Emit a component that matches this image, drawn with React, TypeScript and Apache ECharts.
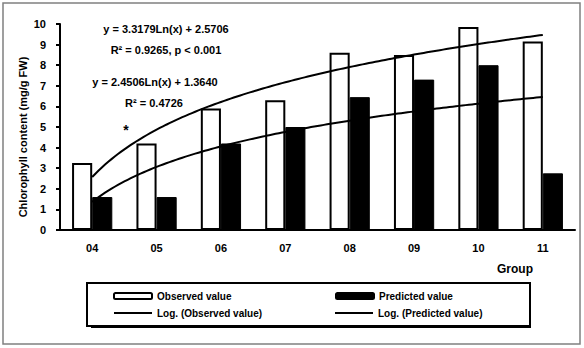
import React, { useEffect, useRef } from 'react';
import * as echarts from 'echarts';

const categories = ['04', '05', '06', '07', '08', '09', '10', '11'];
const observedValues = [3.25, 4.2, 5.9, 6.3, 8.6, 8.5, 9.85, 9.15];
const predictedValues = [1.6, 1.6, 4.2, 5.0, 6.45, 7.3, 8.0, 2.75];
const seriesNames = ['Observed value', 'Predicted value', 'Log. (Observed value)', 'Log. (Predicted value)'];
const yAxisTitle = 'Chlorophyll content (mg/g FW)';
const xAxisTitle = 'Group';

function logFit(values: number[]) {
  const xs = values.map((_, i) => Math.log(i + 1));
  const n = values.length;
  const mx = xs.reduce((s, v) => s + v, 0) / n;
  const my = values.reduce((s, v) => s + v, 0) / n;
  let sxy = 0, sxx = 0, syy = 0;
  for (let i = 0; i < n; i++) {
    sxy += (xs[i] - mx) * (values[i] - my);
    sxx += (xs[i] - mx) ** 2;
    syy += (values[i] - my) ** 2;
  }
  const a = sxy / sxx;
  const b = my - a * mx;
  const r2 = (sxy * sxy) / (sxx * syy);
  return { a, b, r2 };
}

function curve(fit: { a: number; b: number }, n: number) {
  const pts: number[][] = [];
  for (let k = 0; k <= (n - 1) * 20; k++) {
    const t = 1 + k / 20;
    pts.push([t, fit.a * Math.log(t) + fit.b]);
  }
  return pts;
}

const F = 'Arial, "Liberation Sans", sans-serif';
const LINE_ICON = 'path://M0,0 L38,0 L38,2 L0,2 Z';

export default function App() {
  const ref = useRef<HTMLDivElement>(null);
  useEffect(() => {
    if (!ref.current) return;
    const chart = echarts.init(ref.current, null, { renderer: 'svg' });
    const fo = logFit(observedValues);
    const fp = logFit(predictedValues);
    const eq = (f: { a: number; b: number }) =>
      `y = ${f.a.toFixed(4)}Ln(x) + ${f.b.toFixed(4)}`;
    const txt = (text: string, x: number, y: number, size = 11) => ({
      type: 'text',
      x,
      y,
      z: 20,
      style: {
        text,
        fill: '#000',
        fontSize: size,
        fontWeight: 'bold',
        fontFamily: F,
        align: 'center',
        verticalAlign: 'middle',
      },
    });
    chart.setOption({
      animation: false,
      backgroundColor: '#fff',
      grid: { left: 60, right: 9, top: 24, bottom: 118 },
      xAxis: [
        {
          type: 'category',
          data: categories,
          axisLine: { lineStyle: { color: '#000', width: 2 } },
          axisTick: { length: 4, lineStyle: { color: '#000', width: 2 } },
          axisLabel: { color: '#000', fontSize: 11, fontWeight: 'bold', fontFamily: F, margin: 12 },
        },
        { type: 'value', min: 0.5, max: 8.5, show: false },
      ],
      yAxis: {
        type: 'value',
        min: 0,
        max: 10,
        interval: 1,
        splitLine: { show: false },
        axisLine: { show: true, lineStyle: { color: '#000', width: 2 } },
        axisTick: { show: true, length: 4, lineStyle: { color: '#000', width: 2 } },
        axisLabel: { color: '#000', fontSize: 11, fontWeight: 'bold', fontFamily: F, margin: 14 },
      },
      legend: {
        left: 87,
        top: 283,
        width: 460,
        padding: [7, 10, 7, 26],
        itemGap: 5,
        itemWidth: 38,
        itemHeight: 6,
        borderColor: '#000',
        borderWidth: 2,
        backgroundColor: '#fff',
        z: 10,
        textStyle: { color: '#000', fontSize: 10, fontWeight: 'bold', fontFamily: F, lineHeight: 12 },
        data: [
          { name: seriesNames[0], textStyle: { width: 173 } },
          { name: seriesNames[1], textStyle: { width: 141 } },
          { name: seriesNames[2], icon: LINE_ICON, textStyle: { width: 173 } },
          { name: seriesNames[3], icon: LINE_ICON, textStyle: { width: 141 } },
        ],
      },
      series: [
        {
          name: seriesNames[0],
          type: 'bar',
          data: observedValues,
          barGap: '0%',
          barCategoryGap: '37.5%',
          itemStyle: { color: '#fff', borderColor: '#000', borderWidth: 2 },
        },
        {
          name: seriesNames[1],
          type: 'bar',
          data: predictedValues,
          itemStyle: { color: '#000', borderColor: '#000', borderWidth: 1 },
        },
        {
          name: seriesNames[2],
          type: 'line',
          xAxisIndex: 1,
          data: curve(fo, observedValues.length),
          symbol: 'none',
          z: 5,
          lineStyle: { color: '#000', width: 2 },
          itemStyle: { color: '#000' },
        },
        {
          name: seriesNames[3],
          type: 'line',
          xAxisIndex: 1,
          data: curve(fp, predictedValues.length),
          symbol: 'none',
          z: 5,
          lineStyle: { color: '#000', width: 2 },
          itemStyle: { color: '#000' },
        },
      ],
      graphic: [
        {
          type: 'rect',
          z: -10,
          shape: { x: 3, y: 3, width: 577, height: 341 },
          style: { fill: 'none', stroke: '#808080', lineWidth: 1.5 },
        },
        {
          type: 'rect',
          z: 1,
          shape: { x: 91, y: 287, width: 440, height: 41 },
          style: { fill: '#000' },
        },
        txt(eq(fo), 166, 29),
        txt(`R² = ${fo.r2.toFixed(4)}, p < 0.001`, 166, 50),
        txt(eq(fp), 155, 82),
        txt(`R² = ${fp.r2.toFixed(4)}`, 154, 103),
        txt('*', 126, 130, 14),
        txt(xAxisTitle, 515, 269, 12),
        {
          type: 'text',
          x: 23,
          y: 137,
          rotation: Math.PI / 2,
          style: {
            text: yAxisTitle,
            fill: '#000',
            fontSize: 11,
            fontWeight: 'bold',
            fontFamily: F,
            align: 'center',
            verticalAlign: 'middle',
          },
        },
      ],
    });
    return () => chart.dispose();
  }, []);
  return (
    <div
      ref={ref}
      style={{ position: 'fixed', left: 0, top: 0, width: 584, height: 348 }}
    />
  );
}
